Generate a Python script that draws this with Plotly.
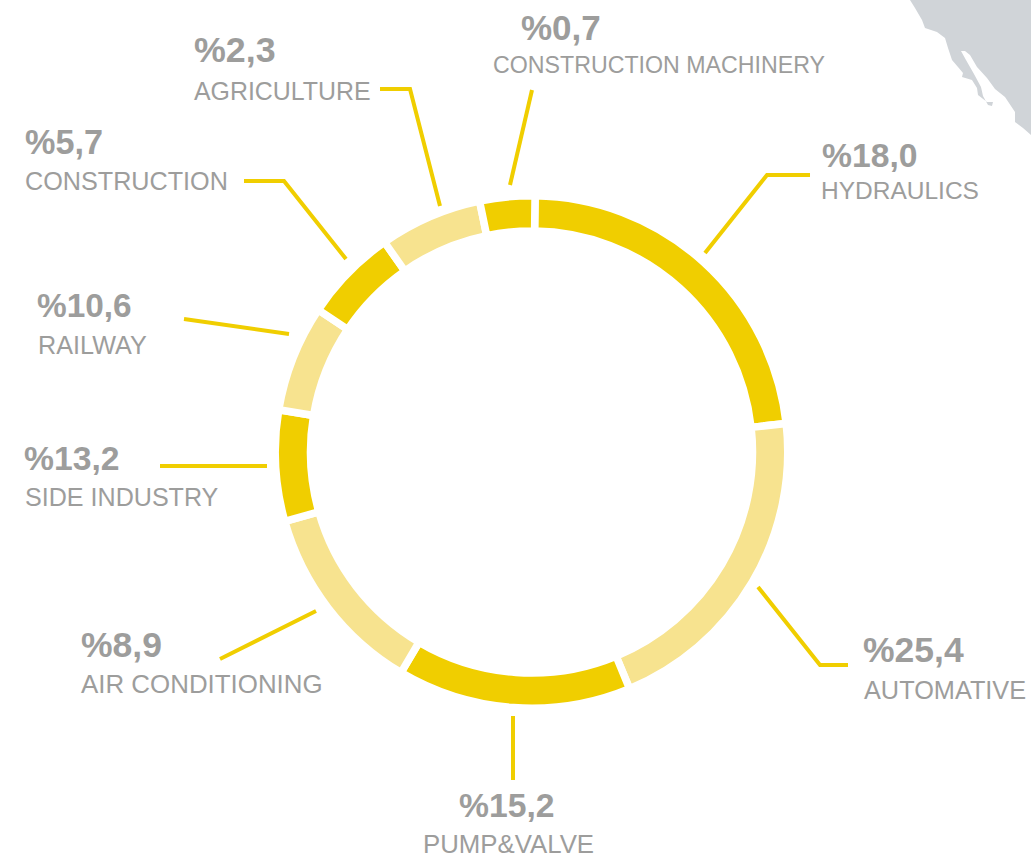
import plotly.graph_objects as go

W, H = 1031, 859
DARK, LIGHT, GREY, MAP = "#F0CE00", "#F7E38F", "#9D9D9C", "#D0D4D8"
FONT = "Liberation Sans"

sectors = ["HYDRAULICS", "AUTOMATIVE", "PUMP&VALVE", "AIR CONDITIONING", "SIDE INDUSTRY",
           "RAILWAY", "CONSTRUCTION", "AGRICULTURE", "CONSTRUCTION MACHINERY"]
share_labels = ["%18,0", "%25,4", "%15,2", "%8,9", "%13,2", "%10,6", "%5,7", "%2,3", "%0,7"]
# drawn arc of each ring segment (degrees)
arc_degrees = [82.8, 73.9, 53.1, 43.7, 25.2, 24.2, 21.3, 23.3, 12.5]
segment_colors = [DARK, LIGHT, DARK, LIGHT, DARK, LIGHT, DARK, LIGHT, DARK]

share_pos = [(822, 155), (863, 650), (459, 805), (81, 645), (24, 458), (37, 305), (25, 142), (194, 50), (521, 28)]
name_pos = [(821, 191), (864, 690), (423, 844), (81, 684), (25, 497), (38, 345), (25, 181), (194, 90.5), (493, 65)]
share_sizes = [33.7, 35.5, 33.7, 35.5, 33.7, 33.4, 34.2, 35.8, 35]
name_sizes = [24.5, 25.3, 25.8, 25.9, 25.1, 25.2, 25.2, 24.9, 23.2]
leaders = [
    [(810, 175), (767, 175), (705, 253)],
    [(758, 587), (820, 665), (848, 665)],
    [(513, 716), (513, 780)],
    [(220, 659), (316, 611)],
    [(160, 466), (267, 466)],
    [(184, 319), (289, 334)],
    [(244, 181), (284, 181), (346, 259)],
    [(380, 89), (410, 89), (440, 206)],
    [(532, 90), (510, 185)],
]
map_outline = [(910, 0), (915, 8), (922, 20), (925, 28), (937, 32), (945, 38), (948, 48), (952, 60),
               (958, 67), (963, 73), (962, 77), (972, 80), (977, 88), (978, 95), (987, 102), (993, 102),
               (992, 106), (988, 105), (983, 96), (981, 87), (974, 74), (966, 60), (961, 51), (965, 51),
               (970, 55), (977, 67), (987, 78), (995, 89), (1005, 97), (1015, 112), (1015, 122),
               (1023, 128), (1031, 135), (1031, 0)]

CX, CY, R, GAP = 531.5, 452, 256.25, 7.5
INNER = 221


def px(x):
    return x / W


def py(y):
    return 1 - y / H


def path(points, close=False):
    d = "M" + " L".join(f"{px(x):.5f},{py(y):.5f}" for x, y in points)
    return d + (" Z" if close else "")


fig = go.Figure(go.Pie(
    labels=sectors, values=arc_degrees, sort=False, direction="clockwise", rotation=0.8,
    hole=INNER / R, textinfo="none", showlegend=False,
    marker=dict(colors=segment_colors, line=dict(color="white", width=GAP)),
    domain=dict(x=[px(CX - R), px(CX + R)], y=[py(CY + R), py(CY - R)]),
))

shapes = [dict(type="path", xref="paper", yref="paper", path=path(map_outline, True),
               fillcolor=MAP, line=dict(width=0), layer="below")]
for pts in leaders:
    shapes.append(dict(type="path", xref="paper", yref="paper", path=path(pts),
                       line=dict(color=DARK, width=4)))

annotations = []
for text, (x, y), size in zip(share_labels, share_pos, share_sizes):
    annotations.append(dict(text=f"<b>{text}</b>", x=px(x), y=py(y), xref="paper", yref="paper",
                            xanchor="left", yanchor="middle", showarrow=False, borderpad=0, borderwidth=0,
                            font=dict(family=FONT, size=size, color=GREY)))
for text, (x, y), size in zip(sectors, name_pos, name_sizes):
    annotations.append(dict(text=text, x=px(x), y=py(y), xref="paper", yref="paper",
                            xanchor="left", yanchor="middle", showarrow=False, borderpad=0, borderwidth=0,
                            font=dict(family=FONT, size=size, color=GREY)))

fig.update_layout(width=W, height=H, margin=dict(l=0, r=0, t=0, b=0), autosize=False,
                  paper_bgcolor="white", plot_bgcolor="white", shapes=shapes, annotations=annotations)

fig.write_html("out.html", config={"displayModeBar": False},
               post_script="document.body.style.margin='0';document.documentElement.style.overflow='hidden';")
